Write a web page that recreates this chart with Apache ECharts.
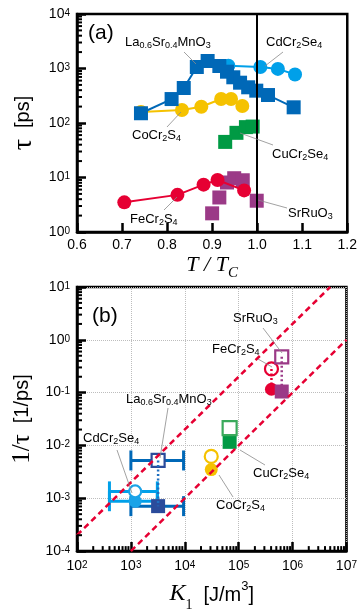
<!DOCTYPE html>
<html><head><meta charset="utf-8">
<script src="https://cdn.jsdelivr.net/npm/echarts@6/dist/echarts.min.js"></script>
<style>html,body{margin:0;padding:0;background:#fff}#c{width:360px;height:613px}</style>
</head><body><div id="c"></div>
<script>
const SANS = 'Liberation Sans, Arial, sans-serif';
const SERIF = 'Liberation Serif, Times New Roman, serif';

// ---------- Panel (a): tau vs T/Tc ----------
const tTickLabels = ['0.6','0.7','0.8','0.9','1.0','1.1','1.2'];
const lsmoT   = [0.742,0.810,0.837,0.866,0.890,0.916,0.933,0.947,0.962,0.980,0.998,1.024,1.081];
const lsmoTau = [151,275,439,1066,1373,1111,874,690,549,452,392,326,194];
const cdT     = [0.936,1.007,1.046,1.084];
const cdTau   = [1124,1067,983,778];
const coT     = [0.742,0.833,0.876,0.920,0.942,0.967];
const coTau   = [159,173,199,276,276,205];
const cuT     = [0.929,0.954,0.975,0.990];
const cuTau   = [45,66,84,86];
const feT     = [0.705,0.823,0.881,0.912,0.971];
const feTau   = [3.5,4.8,7.4,9.0,5.8];
const srT     = [0.900,0.916,0.933,0.949,0.968,0.999];
const srTau   = [2.2,4.3,8.1,9.7,8.9,3.75];

// ---------- Panel (b): 1/tau vs K1 ----------
const materials   = ['LSMO','CdCr2Se4','CoCr2S4','CuCr2Se4','FeCr2S4','SrRuO3'];
const k1          = [3.2e3, 1.2e3, 3.1e4, 6.8e4, 4.06e5, 6.3e5];
const invTauOpen  = [5.2e-3, 1.35e-3, 6.2e-3, 0.0212, 0.281, 0.477];
const invTauFill  = [7.1e-4, 8.8e-4, 3.5e-3, 0.0117, 0.116, 0.105];
const errLow      = [1e3, 1e3, 4e2, 4e2];
const errHigh     = [9.5e3, 9.5e3, 3.1e3, 3.1e3];
const errY        = [5.2e-3, 7.1e-4, 1.35e-3, 8.8e-4];
const fitA        = [[1e2, 2e-4], [5e6, 10]];
const fitB        = [[1e3, 1e-4], [1e7, 1]];

// ---------- styles ----------
const colA = {lsmo:'#0068b7', cd:'#00a0e9', co:'#f5c200', cu:'#009a44', fe:'#e60033', sr:'#9b3a87'};
const matSymbol = ['rect','circle','circle','rect','circle','rect'];
const matFill   = ['#2b4b9b','#1aa3e8','#f5c200','#009a44','#e60033','#9b3a87'];
const matOpen   = ['#2b4b9b','#1aa3e8','#f5c200','#3aaa5c','#e60033','#9b3a87'];
const matOpenSz = [13,12,13,14,13,13];
const matFillSz = [14,13,13,14,13,14];
const dotColor  = ['#1f6fc0', null, null, null, '#e60033', '#9b3a87'];
const errColor  = ['#0068b7','#0068b7','#00a0e9','#00a0e9'];

const pairs = (xs, ys) => xs.map((x, i) => [x, ys[i]]);
const supFmt = v => '{b|10}{s|' + Math.round(Math.log10(v)) + '}';
const supRich = {
  b: {fontFamily: SANS, fontSize: 14, color: '#000', lineHeight: 14, verticalAlign: 'bottom'},
  s: {fontFamily: SANS, fontSize: 10, color: '#000', lineHeight: 10, verticalAlign: 'top', padding: [1, 0, 9, 0]}
};

function minorTicksY(exps, xVal) {
  const out = [];
  exps.forEach(e => { for (let m = 2; m <= 9; m++) out.push([xVal, m * Math.pow(10, e)]); });
  return out;
}
function minorTicksX(exps, yVal) {
  const out = [];
  exps.forEach(e => { for (let m = 2; m <= 9; m++) out.push([m * Math.pow(10, e), yVal]); });
  return out;
}
const tickY = len => (p, api) => {
  const c = api.coord([api.value(0), api.value(1)]);
  return {type: 'line', shape: {x1: c[0], y1: c[1], x2: c[0] + len, y2: c[1]}, style: {stroke: '#000', lineWidth: 2}};
};
const tickX = len => (p, api) => {
  const c = api.coord([api.value(0), api.value(1)]);
  return {type: 'line', shape: {x1: c[0], y1: c[1], x2: c[0], y2: c[1] - len}, style: {stroke: '#000', lineWidth: 2}};
};

const axisCommon = {
  axisLine: {show: true, lineStyle: {color: '#000', width: 2.5}},
  axisTick: {show: true, inside: true, length: 9, lineStyle: {color: '#000', width: 2.5}},
  splitLine: {show: false},
  minorTick: {show: false}
};
const gridSplit = {show: true, lineStyle: {color: '#bdbdbd', type: 'dotted', width: 1}};

const series = [];
// panel (a)
series.push({type:'line', xAxisIndex:0, yAxisIndex:0, data:pairs(cdT, cdTau), symbol:'circle', symbolSize:14,
  itemStyle:{color:colA.cd}, lineStyle:{color:colA.cd, width:2}});
series.push({type:'line', xAxisIndex:0, yAxisIndex:0, data:pairs(coT, coTau), symbol:'circle', symbolSize:14,
  itemStyle:{color:colA.co}, lineStyle:{color:colA.co, width:2}});
series.push({type:'line', xAxisIndex:0, yAxisIndex:0, data:pairs(lsmoT, lsmoTau), symbol:'rect', symbolSize:14,
  itemStyle:{color:colA.lsmo}, lineStyle:{color:colA.lsmo, width:2}});
series.push({type:'scatter', xAxisIndex:0, yAxisIndex:0, data:pairs(cuT, cuTau), symbol:'rect', symbolSize:14,
  itemStyle:{color:colA.cu, opacity:1}});
series.push({type:'line', xAxisIndex:0, yAxisIndex:0, data:pairs(feT, feTau), symbol:'circle', symbolSize:14,
  itemStyle:{color:colA.fe}, lineStyle:{color:colA.fe, width:2}});
series.push({type:'scatter', xAxisIndex:0, yAxisIndex:0, data:pairs(srT, srTau), symbol:'rect', symbolSize:14,
  itemStyle:{color:colA.sr, opacity:1},
  markLine:{silent:true, symbol:'none', label:{show:false}, lineStyle:{color:'#000', width:2, type:'solid'}, data:[{xAxis:1.0}], z:10}});
series.push({type:'custom', xAxisIndex:0, yAxisIndex:0, data:minorTicksY([0,1,2,3], 0.6), renderItem:tickY(5), silent:true, z:5});

// panel (b)
series.push({type:'custom', xAxisIndex:1, yAxisIndex:1, data:minorTicksY([-4,-3,-2,-1,0], 1e2), renderItem:tickY(5), silent:true, z:5});
series.push({type:'custom', xAxisIndex:1, yAxisIndex:1, data:minorTicksX([2,3,4,5,6], 1e-4), renderItem:tickX(5), silent:true, z:5});
series.push({type:'custom', xAxisIndex:1, yAxisIndex:1,
  data: errLow.map((lo, i) => ({value:[lo, errHigh[i], errY[i]], itemStyle:{color:errColor[i]}})),
  encode:{x:[0,1], y:2},
  renderItem:(p, api) => {
    const a = api.coord([api.value(0), api.value(2)]);
    const b = api.coord([api.value(1), api.value(2)]);
    const st = {stroke: api.visual('color'), lineWidth: 3};
    return {type:'group', children:[
      {type:'line', shape:{x1:a[0], y1:a[1], x2:b[0], y2:b[1]}, style:st},
      {type:'line', shape:{x1:a[0], y1:a[1]-10, x2:a[0], y2:a[1]+10}, style:st},
      {type:'line', shape:{x1:b[0], y1:b[1]-10, x2:b[0], y2:b[1]+10}, style:st}
    ]};
  }});
materials.forEach((m, i) => {
  if (!dotColor[i]) return;
  series.push({type:'line', xAxisIndex:1, yAxisIndex:1, data:[[k1[i], invTauOpen[i]], [k1[i], invTauFill[i]]],
    symbol:'none', lineStyle:{color:dotColor[i], width:2.5, type:[2,2.5]}});
});
[fitA, fitB].forEach(f => series.push({type:'line', xAxisIndex:1, yAxisIndex:1, data:f, symbol:'none',
  lineStyle:{color:'#e60033', width:2.5, type:[6,4]}}));
materials.forEach((m, i) => {
  series.push({type:'scatter', xAxisIndex:1, yAxisIndex:1, data:[[k1[i], invTauFill[i]]], symbol:matSymbol[i],
    symbolSize:matFillSz[i], itemStyle:{color:matFill[i], opacity:1}});
  series.push({type:'scatter', xAxisIndex:1, yAxisIndex:1, data:[[k1[i], invTauOpen[i]]], symbol:matSymbol[i],
    symbolSize:matOpenSz[i], itemStyle:{color:'#fff', borderColor:matOpen[i], borderWidth:2.2, opacity:1}});
});

// annotations
const chemRich = {
  n: {fontFamily: SANS, fontSize: 13, color: '#000', lineHeight: 15, verticalAlign: 'top'},
  s: {fontFamily: SANS, fontSize: 9, color: '#000', lineHeight: 9, verticalAlign: 'top', padding: [6, 0, 0, 0]}
};
const lsmoTxt = '{n|La}{s|0.6}{n|Sr}{s|0.4}{n|MnO}{s|3}';
const cdTxt = '{n|CdCr}{s|2}{n|Se}{s|4}';
const coTxt = '{n|CoCr}{s|2}{n|S}{s|4}';
const cuTxt = '{n|CuCr}{s|2}{n|Se}{s|4}';
const feTxt = '{n|FeCr}{s|2}{n|S}{s|4}';
const srTxt = '{n|SrRuO}{s|3}';
const notes = [
  [lsmoTxt, 125, 43, [184,52,196,64]],
  [cdTxt, 266, 43, [283,52,265,66]],
  [coTxt, 132, 136, [167,127,181,112]],
  [cuTxt, 272, 155, [240,133,273,145]],
  [feTxt, 130, 220, [164,210,177,197]],
  [srTxt, 288, 214, [258,200,287,208]],
  [srTxt, 233, 319, [263,328,282,353]],
  [feTxt, 212, 350, [258,359,272,367]],
  [lsmoTxt, 126, 400, [168,408,160,458]],
  [cdTxt, 83, 439, [117,450,132,493]],
  [cuTxt, 253, 474, [240,450,265,465]],
  [coTxt, 216, 506, [219,475,233,497]]
];
const graphic = [];
notes.forEach(([t, x, y, l]) => {
  graphic.push({type:'line', shape:{x1:l[0], y1:l[1], x2:l[2], y2:l[3]}, style:{stroke:'#8a8a8a', lineWidth:0.8}, z:50});
  graphic.push({type:'text', x:x, y:y, style:{text:t, rich:chemRich, align:'left', verticalAlign:'middle', fill:'#000'}, z:51});
});
graphic.push({type:'text', x:88, y:33, style:{text:'(a)', font:'21px ' + SANS, fill:'#000', verticalAlign:'middle'}, z:51});
graphic.push({type:'text', x:92, y:316, style:{text:'(b)', font:'21px ' + SANS, fill:'#000', verticalAlign:'middle'}, z:51});

const chart = echarts.init(document.getElementById('c'), null, {renderer:'canvas'});
chart.setOption({
  animation: false,
  backgroundColor: '#fff',
  grid: [
    {left:77, top:14, width:273, height:218, show:true, borderColor:'#000', borderWidth:2.5, backgroundColor:'transparent'},
    {left:77, top:287, width:273, height:271, show:true, borderColor:'#000', borderWidth:2.5, backgroundColor:'transparent'}
  ],
  xAxis: [
    Object.assign({}, axisCommon, {type:'value', gridIndex:0, min:0.6, max:1.2, interval:0.1,
      axisLabel:{color:'#000', fontFamily:SANS, fontSize:14, margin:6,
        formatter: v => tTickLabels[Math.round((v - 0.6) * 10)]},
      name:'{i|T / T}{c|C}', nameLocation:'middle', nameGap:22,
      nameTextStyle:{rich:{
        i:{fontFamily:SERIF, fontStyle:'italic', fontSize:22, color:'#000', lineHeight:24, verticalAlign:'top'},
        c:{fontFamily:SERIF, fontStyle:'italic', fontSize:15, color:'#000', lineHeight:15, verticalAlign:'top', padding:[12,0,0,0]}}}}),
    Object.assign({}, axisCommon, {type:'log', gridIndex:1, min:1e2, max:1e7, logBase:10,
      splitLine: gridSplit,
      axisLabel:{formatter:supFmt, rich:supRich, margin:8},
      name:'{k|K}{ks|1}{p|  [J/m}{ps|3}{p|]}', nameLocation:'middle', nameGap:24,
      nameTextStyle:{rich:{
        k:{fontFamily:SERIF, fontStyle:'italic', fontSize:24, color:'#000', lineHeight:26, verticalAlign:'top', padding:[2,0,0,0]},
        ks:{fontFamily:SERIF, fontSize:14, color:'#000', lineHeight:14, verticalAlign:'top', padding:[18,0,0,0]},
        p:{fontFamily:SANS, fontSize:20, color:'#000', lineHeight:22, verticalAlign:'top', padding:[5,0,0,0]},
        ps:{fontFamily:SANS, fontSize:13, color:'#000', lineHeight:13, verticalAlign:'top', padding:[0,0,0,0]}}}})
  ],
  yAxis: [
    Object.assign({}, axisCommon, {type:'log', gridIndex:0, min:1, max:1e4, logBase:10,
      axisLabel:{formatter:supFmt, rich:supRich, margin:7},
      name:'{t|τ}{p|  [ps]}', nameLocation:'middle', nameRotate:90, nameGap:34,
      nameTextStyle:{rich:{
        t:{fontFamily:SERIF, fontSize:28, color:'#000', lineHeight:28},
        p:{fontFamily:SANS, fontSize:20, color:'#000', lineHeight:28}}}}),
    Object.assign({}, axisCommon, {type:'log', gridIndex:1, min:1e-4, max:1e1, logBase:10,
      splitLine: gridSplit,
      axisLabel:{formatter:supFmt, rich:supRich, margin:7},
      name:'{t|1/τ}{p|  [1/ps]}', nameLocation:'middle', nameRotate:90, nameGap:34,
      nameTextStyle:{rich:{
        t:{fontFamily:SERIF, fontSize:25, color:'#000', lineHeight:28},
        p:{fontFamily:SANS, fontSize:20, color:'#000', lineHeight:28}}}})
  ],
  series: series,
  graphic: graphic
});
</script>
</body></html>
